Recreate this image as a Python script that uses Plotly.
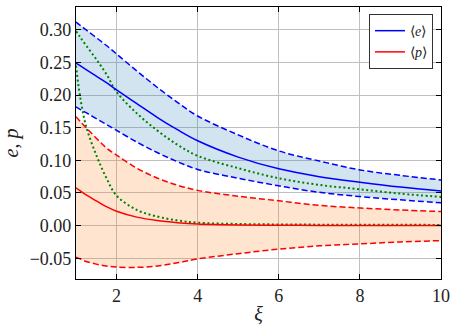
import plotly.graph_objects as go

# --- data ---
xi = [1, 1.1, 1.25, 1.5, 1.75, 2, 2.5, 3, 3.5, 4, 5, 6, 7, 8, 9, 10]

e_mean = [0.249, 0.245, 0.239, 0.229, 0.219, 0.208, 0.187, 0.166, 0.147, 0.130, 0.105, 0.087, 0.075, 0.0665, 0.059, 0.053]
e_hi = [0.312, 0.307, 0.300, 0.288, 0.276, 0.263, 0.237, 0.212, 0.189, 0.168, 0.139, 0.1145, 0.099, 0.0854, 0.077, 0.070]
e_lo = [0.182, 0.178, 0.173, 0.164, 0.155, 0.146, 0.128, 0.112, 0.098, 0.086, 0.0726, 0.061, 0.051, 0.0445, 0.0395, 0.035]

p_mean = [0.058, 0.0535, 0.047, 0.038, 0.029, 0.022, 0.013, 0.0077, 0.0045, 0.0025, 0.001, 0.0005, 0.0003, 0.0002, 0.0001, 0.0001]
p_hi = [0.167, 0.160, 0.150, 0.134, 0.119, 0.108, 0.088, 0.073, 0.062, 0.054, 0.045, 0.038, 0.031, 0.027, 0.024, 0.0215]
p_lo = [-0.0485, -0.051, -0.055, -0.059, -0.062, -0.0635, -0.064, -0.062, -0.057, -0.051, -0.043, -0.036, -0.031, -0.028, -0.025, -0.023]

g1 = [0.298, 0.289, 0.276, 0.255, 0.232, 0.205, 0.172, 0.146, 0.124, 0.107, 0.088, 0.0726, 0.0624, 0.0557, 0.049, 0.044]
g2 = [0.245, 0.198, 0.152, 0.108, 0.073, 0.046, 0.024, 0.014, 0.008, 0.0045, 0.0025, 0.0018, 0.0015, 0.0013, 0.0012, 0.0011]

y_ticks = [-0.05, 0.0, 0.05, 0.10, 0.15, 0.20, 0.25, 0.30]
x_ticks = [2, 4, 6, 8, 10]

FONT = "Liberation Serif"
DASH = "6px,3px"
DOT = "2px,2.6px"

fig = go.Figure()

def band(lo, hi, color):
    fig.add_trace(go.Scatter(x=xi, y=lo, mode="lines", line=dict(width=0, shape="spline"),
                             showlegend=False, hoverinfo="skip"))
    fig.add_trace(go.Scatter(x=xi, y=hi, mode="lines", line=dict(width=0, shape="spline"),
                             fill="tonexty", fillcolor=color, showlegend=False, hoverinfo="skip"))

band(e_lo, e_hi, "rgba(31,119,180,0.2)")
band(p_lo, p_hi, "rgba(255,127,14,0.2)")

def line(y, color, dash=None, name=None, width=1.5):
    fig.add_trace(go.Scatter(x=xi, y=y, mode="lines",
                             line=dict(color=color, width=width, dash=dash, shape="spline"),
                             name=name, showlegend=name is not None))

line(e_hi, "#0000ff", DASH)
line(e_lo, "#0000ff", DASH)
line(p_hi, "#ff0000", DASH)
line(p_lo, "#ff0000", DASH)
line(g1, "#008000", DOT, width=2)
line(g2, "#008000", DOT, width=2)
line(e_mean, "#0000ff", None, "⟨<i>e</i>⟩")
line(p_mean, "#ff0000", None, "⟨<i>p</i>⟩")

axis_common = dict(showline=True, linecolor="black", linewidth=1.2, mirror="allticks",
                   ticks="inside", ticklen=5, tickwidth=1.2, tickcolor="black",
                   showgrid=True, gridcolor="#c0c0c0", gridwidth=1, zeroline=False,
                   automargin=False,
                   tickfont=dict(family=FONT, size=18, color="#222"))

fig.update_xaxes(range=[1, 10], tickvals=x_ticks, ticktext=[str(v) for v in x_ticks],
                 title=dict(text="<i>ξ</i>", font=dict(family=FONT, size=20, color="#222"), standoff=2),
                 **axis_common)
fig.update_yaxes(range=[-0.0818, 0.335], tickvals=y_ticks, tickformat=".2f",
                 title=dict(text="<i>e</i>, <i>p</i>", font=dict(family=FONT, size=20, color="#222"), standoff=6),
                 **axis_common)

fig.update_layout(
    width=457, height=327,
    margin=dict(l=76, r=16, t=7, b=48, autoexpand=False),
    plot_bgcolor="white", paper_bgcolor="white",
    legend=dict(x=0.978, y=0.974, xanchor="right", yanchor="top",
                bgcolor="white", bordercolor="#333", borderwidth=1,
                font=dict(family=FONT, size=14, color="#222"),
                itemwidth=30, tracegroupgap=0, traceorder="normal"),
)

fig.write_html("out.html", config={"displayModeBar": False},
               post_script="document.body.style.margin='0';document.body.style.padding='0';")
